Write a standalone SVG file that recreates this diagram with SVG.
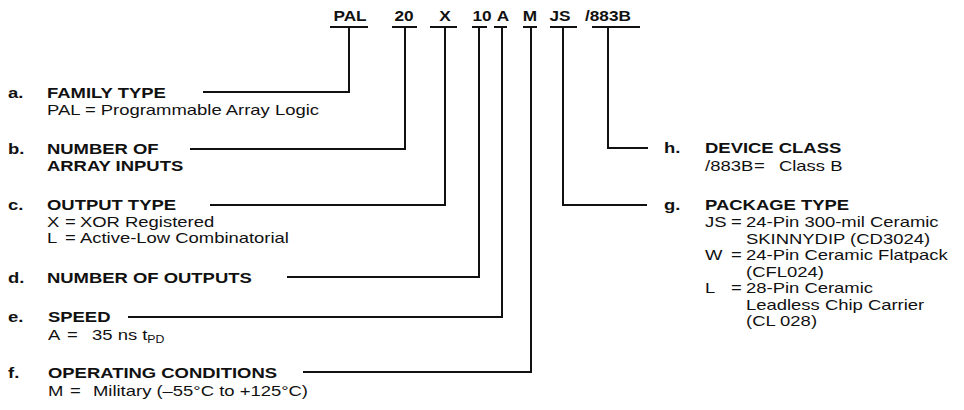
<svg xmlns="http://www.w3.org/2000/svg" width="964" height="410" viewBox="0 0 964 410">
<style>
text{font-family:"Liberation Sans",Arial,Helvetica,sans-serif;fill:#111;}
.b{font-size:15px;font-weight:bold;}
.r{font-size:15px;}
.code{font-size:14px;font-weight:bold;text-anchor:middle;}
.ln{fill:none;stroke:#111;stroke-width:2;}
.sub{font-size:10px;}
</style>
<rect width="964" height="410" fill="#fff"/>
<g id="codes" transform="scale(1.23 1)">
<text class="code" x="284.6" y="21">PAL</text>
<text class="code" x="328.5" y="21">20</text>
<text class="code" x="361.8" y="21">X</text>
<text class="code" x="391.9" y="21">10</text>
<text class="code" x="408.9" y="21">A</text>
<text class="code" x="430.9" y="21">M</text>
<text class="code" x="455.3" y="21">JS</text>
<text class="code" x="494.3" y="21">/883B</text>
</g>
<g id="connectors" class="ln">
<path d="M330,27H368M392,27H417M430,27H457M472,27H487M494,27H507M523,27H537M550,27H577M592,27H640"/>
<path d="M349,27V92H203"/>
<path d="M405,27V149H190"/>
<path d="M445,27V205H210"/>
<path d="M479,27V277H287"/>
<path d="M502,27V317H128"/>
<path d="M531,27V372H303"/>
<path d="M563,27V205H647"/>
<path d="M608,27V148H648"/>
</g>
<g id="a" transform="scale(1.23 1)">
<text class="b" x="6.5" y="98">a.</text>
<text class="b" x="38.2" y="98">FAMILY TYPE</text>
<text class="r" x="38.2" y="115">PAL = Programmable Array Logic</text>
</g>
<g id="b" transform="scale(1.23 1)">
<text class="b" x="6.5" y="154">b.</text>
<text class="b" x="38.2" y="154">NUMBER OF</text>
<text class="b" x="38.2" y="171">ARRAY INPUTS</text>
</g>
<g id="c" transform="scale(1.23 1)">
<text class="b" x="6.5" y="210">c.</text>
<text class="b" x="38.2" y="210">OUTPUT TYPE</text>
<text class="r" x="38.2" y="227">X</text>
<text class="r" x="52.8" y="227">=</text>
<text class="r" x="65" y="227">XOR Registered</text>
<text class="r" x="38.2" y="243">L</text>
<text class="r" x="52.8" y="243">=</text>
<text class="r" x="65" y="243">Active-Low Combinatorial</text>
</g>
<g id="d" transform="scale(1.23 1)">
<text class="b" x="6.5" y="283">d.</text>
<text class="b" x="38.2" y="283">NUMBER OF OUTPUTS</text>
</g>
<g id="e" transform="scale(1.23 1)">
<text class="b" x="6.5" y="322">e.</text>
<text class="b" x="39" y="322">SPEED</text>
<text class="r" x="39" y="340">A</text>
<text class="r" x="54.5" y="340">=</text>
<text class="r" x="74.8" y="340">35 ns t<tspan class="sub" dy="3">PD</tspan></text>
</g>
<g id="f" transform="scale(1.23 1)">
<text class="b" x="6.5" y="378">f.</text>
<text class="b" x="39" y="378">OPERATING CONDITIONS</text>
<text class="r" x="39" y="396">M</text>
<text class="r" x="56.9" y="396">=</text>
<text class="r" x="75.6" y="396">Military (–55°C to +125°C)</text>
</g>
<g id="h" transform="scale(1.23 1)">
<text class="b" x="539.8" y="153">h.</text>
<text class="b" x="573.2" y="153">DEVICE CLASS</text>
<text class="r" x="573.2" y="171">/883B</text>
<text class="r" x="613" y="171">=</text>
<text class="r" x="633.3" y="171">Class B</text>
</g>
<g id="g" transform="scale(1.23 1)">
<text class="b" x="539.8" y="210">g.</text>
<text class="b" x="573.2" y="210">PACKAGE TYPE</text>
<text class="r" x="573.2" y="227">JS</text>
<text class="r" x="594.3" y="227">=</text>
<text class="r" x="606.5" y="227">24-Pin 300-mil Ceramic</text>
<text class="r" x="606.5" y="244">SKINNYDIP (CD3024)</text>
<text class="r" x="573.2" y="260">W</text>
<text class="r" x="594.3" y="260">=</text>
<text class="r" x="606.5" y="260">24-Pin Ceramic Flatpack</text>
<text class="r" x="606.5" y="277">(CFL024)</text>
<text class="r" x="573.2" y="293">L</text>
<text class="r" x="594.3" y="293">=</text>
<text class="r" x="606.5" y="293">28-Pin Ceramic</text>
<text class="r" x="606.5" y="310">Leadless Chip Carrier</text>
<text class="r" x="606.5" y="326">(CL 028)</text>
</g>
</svg>
